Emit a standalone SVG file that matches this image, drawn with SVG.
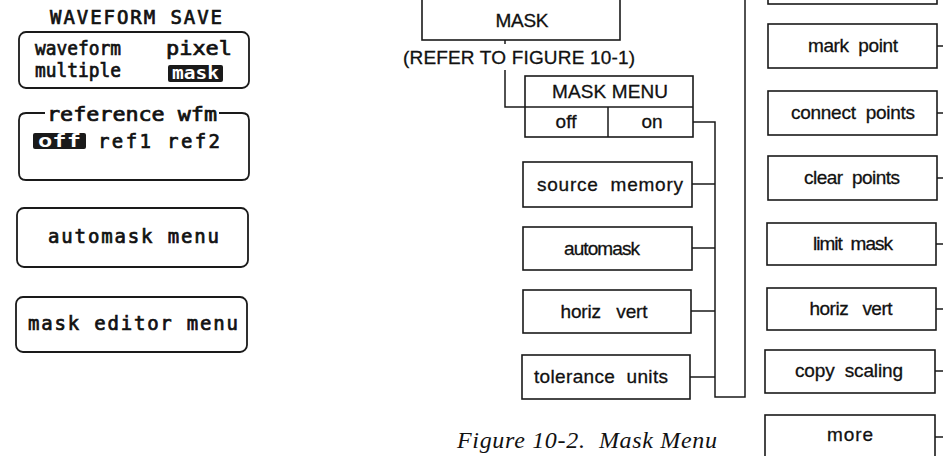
<svg xmlns="http://www.w3.org/2000/svg" width="943" height="456" viewBox="0 0 943 456">
<style>
.bx{fill:#fff;stroke:#1a1a1a;stroke-width:1.6}
.rb{fill:#fff;stroke:#1a1a1a;stroke-width:1.8}
.ln{fill:none;stroke:#1a1a1a;stroke-width:1.5}
.lb{font-family:"Liberation Sans",Arial,sans-serif;font-size:19px;fill:#111;text-anchor:middle;white-space:pre;stroke:#111;stroke-width:0.3}
.mo{font-family:"DejaVu Sans Mono","Liberation Mono",monospace;font-size:19px;fill:#111;stroke:#111;stroke-width:0.7;white-space:pre}
.hi{fill:#1a1a1a}
.hw{font-family:"DejaVu Sans Mono","Liberation Mono",monospace;font-size:18px;font-weight:bold;fill:#fff}
</style>
<rect width="943" height="456" fill="#fff"/>

<!-- Left panel: waveform save -->
<g id="title">
<text class="mo" x="50" y="24" textLength="172" lengthAdjust="spacing">WAVEFORM SAVE</text>
</g>
<g id="box-waveform">
<rect class="rb" x="19" y="32" width="230" height="56" rx="7"/>
<text class="mo" x="35" y="55" textLength="86" lengthAdjust="spacingAndGlyphs">waveform</text>
<text class="mo" x="166" y="55" textLength="66" lengthAdjust="spacingAndGlyphs">pixel</text>
<text class="mo" x="35" y="77" textLength="86" lengthAdjust="spacingAndGlyphs">multiple</text>
<rect class="hi" x="168" y="65" width="55" height="17" rx="2"/>
<text class="hw" x="172" y="79" textLength="47" lengthAdjust="spacingAndGlyphs">mask</text>
</g>
<g id="box-reference">
<path class="ln" style="stroke-width:1.8" d="M45 113 H26 Q19 113 19 120 V173 Q19 180 26 180 H242 Q249 180 249 173 V120 Q249 113 242 113 H219"/>
<text class="mo" x="47" y="121" textLength="170" lengthAdjust="spacingAndGlyphs">reference wfm</text>
<rect class="hi" x="33" y="133" width="53" height="16" rx="2"/>
<text class="hw" x="38" y="147" textLength="43" lengthAdjust="spacingAndGlyphs">off</text>
<text class="mo" x="98" y="148" textLength="122" lengthAdjust="spacing">ref1 ref2</text>
</g>
<g id="box-automask-menu">
<rect class="rb" x="17" y="208" width="231" height="59" rx="7"/>
<text class="mo" x="48" y="243" textLength="171" lengthAdjust="spacing">automask menu</text>
</g>
<g id="box-mask-editor-menu">
<rect class="rb" x="16" y="297" width="231" height="55" rx="7"/>
<text class="mo" x="28" y="330" textLength="210" lengthAdjust="spacing">mask editor menu</text>
</g>

<!-- Connectors -->
<g id="connectors">
<path class="ln" d="M505 40 V44"/>
<path class="ln" d="M505 70 V107 H525"/>
<path class="ln" d="M693 122 H715 V397 H745 V0"/>
<path class="ln" d="M692 184 H715 M692 248 H715 M691 311 H715 M690 377 H715"/>
<path class="ln" d="M937 46 H943 M937 113 H943 M937 178 H943 M936 244 H943 M936 309 H943 M935 371 H943 M935 437 H943"/>
</g>

<!-- Mask menu tree -->
<g id="mask">
<rect class="bx" x="422" y="-30" width="198" height="70"/>
<text class="lb" x="522" y="27" textLength="53">MASK</text>
</g>
<g id="refer">
<text class="lb" x="519" y="64" textLength="232">(REFER TO FIGURE 10-1)</text>
</g>
<g id="mask-menu">
<rect class="bx" x="525" y="76" width="168" height="61"/>
<path class="ln" d="M525 107 H693 M608 107 V137"/>
<text class="lb" x="610" y="98" textLength="116">MASK MENU</text>
<text class="lb" x="566" y="128" textLength="21">off</text>
<text class="lb" x="652" y="128" textLength="21">on</text>
</g>
<g id="source-memory">
<rect class="bx" x="523" y="162" width="169" height="45"/>
<text class="lb" x="610" y="191" textLength="146">source  memory</text>
</g>
<g id="automask">
<rect class="bx" x="523" y="227" width="169" height="43"/>
<text class="lb" x="602" y="255" textLength="76">automask</text>
</g>
<g id="horiz-vert-1">
<rect class="bx" x="523" y="290" width="168" height="43"/>
<text class="lb" x="604" y="318" textLength="87">horiz   vert</text>
</g>
<g id="tolerance-units">
<rect class="bx" x="522" y="355" width="168" height="44"/>
<text class="lb" x="601" y="383" textLength="134">tolerance  units</text>
</g>

<!-- Right column -->
<g id="top-partial">
<rect class="bx" x="768" y="-40" width="169" height="44"/>
</g>
<g id="mark-point">
<rect class="bx" x="768" y="24" width="169" height="44"/>
<text class="lb" x="853" y="52" textLength="90">mark  point</text>
</g>
<g id="connect-points">
<rect class="bx" x="768" y="91" width="169" height="44"/>
<text class="lb" x="853" y="119" textLength="124">connect  points</text>
</g>
<g id="clear-points">
<rect class="bx" x="768" y="156" width="169" height="44"/>
<text class="lb" x="852" y="184" textLength="96">clear  points</text>
</g>
<g id="limit-mask">
<rect class="bx" x="767" y="223" width="169" height="42"/>
<text class="lb" x="853" y="250" textLength="80">limit  mask</text>
</g>
<g id="horiz-vert-2">
<rect class="bx" x="767" y="288" width="169" height="42"/>
<text class="lb" x="851" y="315" textLength="83">horiz   vert</text>
</g>
<g id="copy-scaling">
<rect class="bx" x="765" y="350" width="170" height="43"/>
<text class="lb" x="849" y="377" textLength="108">copy  scaling</text>
</g>
<g id="more">
<rect class="bx" x="765" y="415" width="170" height="60"/>
<text class="lb" x="850" y="441" textLength="46">more</text>
</g>

<g id="caption">
<text x="457" y="448" textLength="260" lengthAdjust="spacing" style="font-family:'Liberation Serif','Times New Roman',serif;font-style:italic;font-size:24px;fill:#111;white-space:pre">Figure 10-2.  Mask Menu</text>
</g>
</svg>
